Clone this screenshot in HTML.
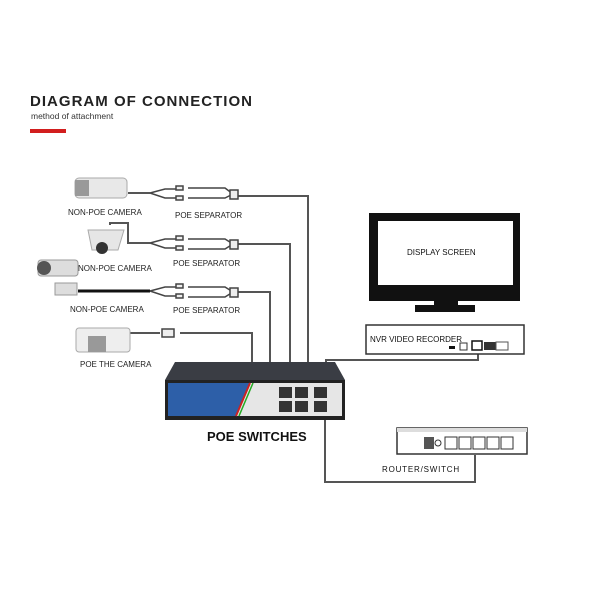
<!DOCTYPE html><html><head><style>body{margin:0;background:#fff}svg{display:block}text{font-family:"Liberation Sans",sans-serif}</style></head><body>
<svg width="600" height="600" viewBox="0 0 600 600">
<text x="30" y="106" font-size="15" font-weight="bold" fill="#222" textLength="222" lengthAdjust="spacing">DIAGRAM OF CONNECTION</text>
<text x="31" y="119" font-size="8.5" fill="#333">method of attachment</text>
<rect x="30" y="129" width="36" height="4" fill="#d21e1e"/>
<g fill="none" stroke="#555" stroke-width="2">
<path d="M128 193H150M237 196H308V370"/>
<path d="M110 225V223H128V243H150M238 244H290V370"/>
<path d="M238 292H270V370"/>
<path d="M130 333H160M180 333H252V370"/>
<path d="M326 370V360H478V350"/>
<path d="M325 420V482H475V455"/>
</g>
<path d="M78 291H150" stroke="#111" stroke-width="3"/>
<g stroke="#444" stroke-width="1.5" fill="#eee">
<path d="M150 193L165 189H178M150 193L165 198H178" fill="none"/><rect x="176" y="186" width="7" height="4"/><rect x="176" y="196" width="7" height="4"/>
<path d="M188 188H225L233 194M188 198H225L233 194" fill="none"/><rect x="230" y="190" width="8" height="9"/>
<path d="M150 243L165 239H178M150 243L165 248H178" fill="none"/><rect x="176" y="236" width="7" height="4"/><rect x="176" y="246" width="7" height="4"/>
<path d="M188 239H225L233 244M188 249H225L233 244" fill="none"/><rect x="230" y="240" width="8" height="9"/>
<path d="M150 291L165 287H178M150 291L165 296H178" fill="none"/><rect x="176" y="284" width="7" height="4"/><rect x="176" y="294" width="7" height="4"/>
<path d="M188 287H225L233 292M188 297H225L233 292" fill="none"/><rect x="230" y="288" width="8" height="9"/>
<rect x="162" y="329" width="12" height="8"/>
</g>
<rect x="75" y="178" width="52" height="20" rx="4" fill="#e8e8e8" stroke="#aaa"/><rect x="75" y="180" width="14" height="16" fill="#999"/>
<path d="M88 230h36l-6 20h-26z" fill="#e6e6e6" stroke="#aaa"/><circle cx="102" cy="248" r="6" fill="#333"/>
<rect x="38" y="260" width="40" height="16" rx="3" fill="#ddd" stroke="#999"/><circle cx="44" cy="268" r="7" fill="#555"/><rect x="55" y="283" width="22" height="12" fill="#ddd" stroke="#999"/>
<rect x="76" y="328" width="54" height="24" rx="3" fill="#eee" stroke="#aaa"/><rect x="88" y="336" width="18" height="16" fill="#999"/>
<g font-size="8" fill="#222">
<text x="68" y="215">NON-POE CAMERA</text><text x="175" y="218">POE SEPARATOR</text>
<text x="78" y="271">NON-POE CAMERA</text><text x="173" y="266">POE SEPARATOR</text>
<text x="70" y="312">NON-POE CAMERA</text><text x="173" y="313">POE SEPARATOR</text>
<text x="80" y="367">POE THE CAMERA</text>
</g>
<path d="M175 362H335L345 380H165Z" fill="#3a3d44"/>
<rect x="165" y="380" width="180" height="40" fill="#222"/>
<path d="M168 383H250L236 416H168Z" fill="#2d5fa8"/>
<path d="M250 383H342V416H236Z" fill="#e6e6e6"/>
<path d="M250 383L236 416" stroke="#c22" stroke-width="2"/><path d="M253 383L239 416" stroke="#2a2" stroke-width="1.5"/>
<g fill="#333"><rect x="279" y="387" width="13" height="11"/><rect x="295" y="387" width="13" height="11"/><rect x="314" y="387" width="13" height="11"/><rect x="279" y="401" width="13" height="11"/><rect x="295" y="401" width="13" height="11"/><rect x="314" y="401" width="13" height="11"/></g>
<text x="207" y="441" font-size="13" font-weight="bold" fill="#111">POE SWITCHES</text>
<rect x="369" y="213" width="151" height="88" fill="#111"/><rect x="378" y="221" width="135" height="64" fill="#fff"/>
<rect x="434" y="301" width="24" height="4" fill="#111"/><rect x="415" y="305" width="60" height="7" fill="#111"/>
<text x="407" y="255" font-size="8" fill="#111">DISPLAY SCREEN</text>
<rect x="366" y="325" width="158" height="29" fill="#fff" stroke="#333" stroke-width="1.5"/>
<text x="370" y="342" font-size="8" fill="#111">NVR VIDEO RECORDER</text>
<rect x="449" y="346" width="6" height="3" fill="#111"/><rect x="460" y="343" width="7" height="7" fill="none" stroke="#333"/><rect x="472" y="341" width="10" height="9" fill="#fff" stroke="#111" stroke-width="1.5"/><rect x="484" y="342" width="12" height="8" fill="#333"/><rect x="496" y="342" width="12" height="8" fill="none" stroke="#555"/>
<rect x="397" y="428" width="130" height="26" fill="#fff" stroke="#333" stroke-width="1.5"/><rect x="397" y="428" width="130" height="4" fill="#ddd"/>
<rect x="424" y="437" width="10" height="12" fill="#555"/><circle cx="438" cy="443" r="3" fill="none" stroke="#333"/>
<g fill="none" stroke="#333"><rect x="445" y="437" width="12" height="12"/><rect x="459" y="437" width="12" height="12"/><rect x="473" y="437" width="12" height="12"/><rect x="487" y="437" width="12" height="12"/><rect x="501" y="437" width="12" height="12"/></g>
<text x="382" y="472" font-size="8" letter-spacing="0.8" fill="#111">ROUTER/SWITCH</text>
</svg></body></html>
